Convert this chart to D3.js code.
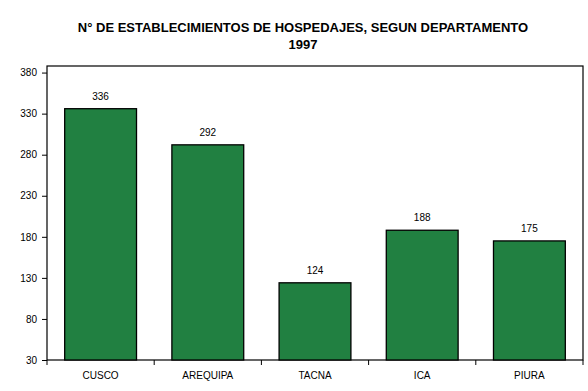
<!DOCTYPE html>
<html><head><meta charset="utf-8">
<script src="https://cdn.jsdelivr.net/npm/d3@7"></script>
<style>body{margin:0;background:#fff}svg{display:block}</style>
</head><body>
<svg id="c" width="588" height="391"></svg>
<script>
const categories = ["CUSCO","AREQUIPA","TACNA","ICA","PIURA"];
const values = [336, 292, 124, 188, 175];
const yTicks = [30, 80, 130, 180, 230, 280, 330, 380];
const titleLines = ["N° DE ESTABLECIMIENTOS DE HOSPEDAJES, SEGUN DEPARTAMENTO", "1997"];

const svg = d3.select("#c");
const L = 47, R = 583, T = 66, B = 360;
const x = d3.scaleBand().domain(categories).range([L, R]).paddingInner(0.33).paddingOuter(0.165);
const y = d3.scaleLinear().domain([30, 388]).range([B, T]);
const font = "Liberation Sans, Arial, sans-serif";

svg.append("g").selectAll("text").data(titleLines).join("text")
  .attr("x", 303).attr("y", (d,i)=>32+i*17).attr("text-anchor","middle")
  .attr("font-family", font).attr("font-weight","bold").attr("font-size", 13)
  .attr("fill","#000").text(d=>d);

svg.append("rect").attr("x",L).attr("y",T).attr("width",R-L).attr("height",B-T)
  .attr("fill","none").attr("stroke","#000").attr("stroke-width",1.2);

svg.append("g").selectAll("rect").data(values).join("rect")
  .attr("x",(d,i)=>x(categories[i])).attr("width",x.bandwidth())
  .attr("y",d=>y(d)).attr("height",d=>B-y(d))
  .attr("fill","#218041").attr("stroke","#000").attr("stroke-width",1.3);

svg.append("g").selectAll("text").data(values).join("text")
  .attr("x",(d,i)=>x(categories[i])+x.bandwidth()/2).attr("y",d=>y(d)-9)
  .attr("text-anchor","middle").attr("font-family",font).attr("font-size",10).text(d=>d);

const ya = d3.axisLeft(y).tickValues(yTicks).tickSize(5).tickPadding(5);
const gy = svg.append("g").attr("transform",`translate(${L},0)`).call(ya);
gy.select(".domain").remove();
gy.selectAll("text").attr("font-family",font).attr("font-size",10).attr("fill","#000");
gy.selectAll("line").attr("stroke","#000");

const xb = d3.scaleLinear().domain([0,5]).range([L,R]);
const gx = svg.append("g");
gx.selectAll("line").data(d3.range(6)).join("line")
  .attr("x1",d=>xb(d)).attr("x2",d=>xb(d)).attr("y1",B).attr("y2",B+5).attr("stroke","#000");
gx.selectAll("text").data(categories).join("text")
  .attr("x",d=>x(d)+x.bandwidth()/2).attr("y",B+19).attr("text-anchor","middle")
  .attr("font-family",font).attr("font-size",10).text(d=>d);
</script>
</body></html>
